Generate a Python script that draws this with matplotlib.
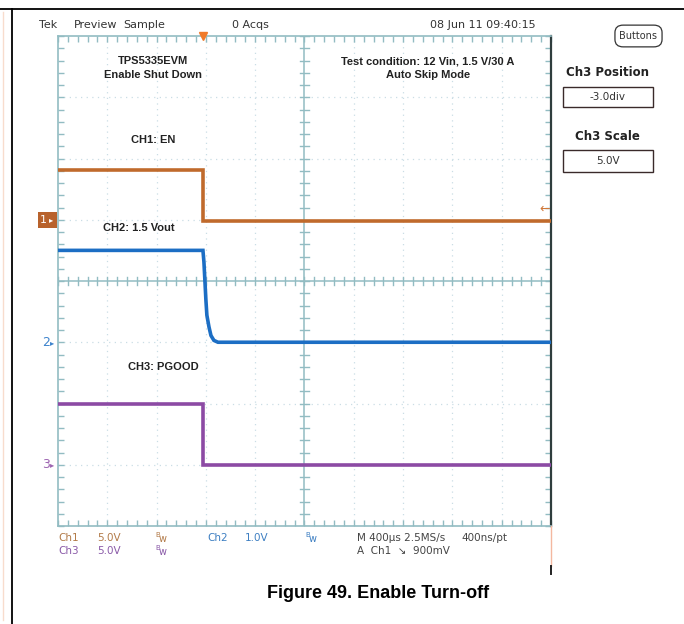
import matplotlib
matplotlib.use('Agg')
import matplotlib.pyplot as plt
import numpy as np
from matplotlib.lines import Line2D
from matplotlib.patches import Rectangle, FancyBboxPatch
from matplotlib.transforms import blended_transform_factory

# ---------------- data ----------------
time_per_div_us = 400
trigger_div = 2.94          # trigger position, divisions from the left edge
n_xdiv, n_ydiv = 10, 8

ch1_t_us = [-1176, 0, 0, 2824]
ch1_v = [4.1, 4.1, -0.1, -0.1]

ch2_t_us = [-1176, 0, 8, 16, 24, 32, 49, 65, 89, 122, 2824]
ch2_v = [1.50, 1.50, 1.31, 1.00, 0.69, 0.44, 0.25, 0.11, 0.03, 0.0, 0.0]

ch3_t_us = [-1176, 0, 0, 2824]
ch3_v = [5.0, 5.0, 0.0, 0.0]

channel_names = ['Ch1', 'Ch2', 'Ch3']
volts_per_div = [5.0, 1.0, 5.0]
position_div = [1.0, -1.0, -3.0]
trigger_level_v = 0.9

trace_labels = ['CH1: EN', 'CH2: 1.5 Vout', 'CH3: PGOOD']
colors = ['#c06a2c', '#1c6ec4', '#8c4aa4']
readout_colors = ['#b27a48', '#3d7fc2', '#8a5aa8']

# ---------------- figure ----------------
W, H = 684, 624
fig = plt.figure(figsize=(W / 100, H / 100), dpi=100)
fig.patch.set_facecolor('white')

def fx(x):
    return x / W

def fy(y):
    return 1 - y / H

NARROW = ['Liberation Sans Narrow', 'DejaVu Sans']
BOLD = ['Liberation Sans', 'DejaVu Sans']

# outer document frame
fig.add_artist(Line2D([fx(0), fx(684)], [fy(9), fy(9)], color='black', lw=1.3))
fig.add_artist(Line2D([fx(12), fx(12)], [fy(9), fy(624)], color='black', lw=1.3))
fig.add_artist(Line2D([fx(3), fx(3)], [fy(12), fy(620)], color='#f8dccd', lw=1.0))

# graticule axes
L, R, T, B = 58, 551, 36, 526
ax = fig.add_axes([fx(L), fy(B), (R - L) / W, (B - T) / H])
ax.set_xlim(0, n_xdiv)
ax.set_ylim(-n_ydiv / 2, n_ydiv / 2)
ax.set_facecolor('white')
grid_c = '#92bcc2'
for s in ['left', 'top', 'bottom']:
    ax.spines[s].set_color(grid_c)
    ax.spines[s].set_linewidth(1.2)
ax.spines['right'].set_color('#2f3d3d')
ax.spines['right'].set_linewidth(1.6)
ax.set_xticks(np.arange(0, n_xdiv + 0.01, 0.2))
ax.set_yticks(np.arange(-n_ydiv / 2, n_ydiv / 2 + 0.01, 0.2))
ax.tick_params(direction='in', length=4, width=1.0, color=grid_c,
               top=True, right=True, labelbottom=False, labelleft=False)

# dotted division lines
for i in range(1, n_xdiv):
    if i != n_xdiv // 2:
        ax.axvline(i, color='#cadde5', lw=0.9, ls=(0, (1, 3.5)), zorder=0)
for j in range(-n_ydiv // 2 + 1, n_ydiv // 2):
    if j != 0:
        ax.axhline(j, color='#cadde5', lw=0.9, ls=(0, (1, 3.5)), zorder=0)

# center cross with ticks
ax.axhline(0, color=grid_c, lw=1.1, zorder=1)
ax.axvline(n_xdiv / 2, color=grid_c, lw=1.1, zorder=1)
for x in np.arange(0, n_xdiv + 0.01, 0.2):
    ax.plot([x, x], [-0.07, 0.07], color=grid_c, lw=1.0, zorder=1)
for y in np.arange(-n_ydiv / 2, n_ydiv / 2 + 0.01, 0.2):
    ax.plot([n_xdiv / 2 - 0.09, n_xdiv / 2 + 0.09], [y, y], color=grid_c, lw=1.0, zorder=1)

# traces
traces = [(ch1_t_us, ch1_v), (ch2_t_us, ch2_v), (ch3_t_us, ch3_v)]
for k, (t, v) in enumerate(traces):
    xs = trigger_div + np.asarray(t, float) / time_per_div_us
    ys = position_div[k] + np.asarray(v, float) / volts_per_div[k]
    ax.plot(xs, ys, color=colors[k], lw=2.6, solid_joinstyle='miter', zorder=3)

# trigger position marker (top) and trigger level arrow (right)
ax.plot([trigger_div], [n_ydiv / 2], marker='v', ms=6, color='#f07a2a',
        clip_on=False, zorder=5)
trig_y = position_div[0] + trigger_level_v / volts_per_div[0]
ax.text(9.98, trig_y, '\u2190', color='#d0783a', fontsize=9, ha='right',
        va='center', zorder=5)

# channel ground markers on the left
bt = blended_transform_factory(fig.transFigure, ax.transData)
ax.add_patch(Rectangle((fx(38), position_div[0] - 0.13), fx(57) - fx(38), 0.26,
                       transform=bt, facecolor='#b8622c', edgecolor='none',
                       clip_on=False, zorder=5))
fig.text(fx(40), position_div[0], '1', transform=bt, fontsize=8, color='white',
         va='center', ha='left', family=NARROW)
fig.text(fx(49), position_div[0], '\u25b8', transform=bt, fontsize=6,
         color='white', va='center', ha='left')
for k in (1, 2):
    fig.text(fx(42), position_div[k], str(k + 1), transform=bt, fontsize=9,
             color=colors[k], va='center', ha='left', family=NARROW, alpha=0.85)
    fig.text(fx(50), position_div[k], '\u25b8', transform=bt, fontsize=6,
             color=colors[k], va='center', ha='left', alpha=0.85)

# annotation texts in the graticule
ann = dict(fontsize=8, fontweight='bold', color='#222222', family=BOLD,
           ha='center', va='center')
fig.text(fx(153), fy(61), 'TPS5335EVM', **ann)
fig.text(fx(153), fy(75), 'Enable Shut Down', **ann)
fig.text(fx(428), fy(61), 'Test condition: 12 Vin, 1.5 V/30 A', **ann)
fig.text(fx(428), fy(75), 'Auto Skip Mode', **ann)
fig.text(fx(153), fy(140), trace_labels[0], **ann)
fig.text(fx(139), fy(228), trace_labels[1], **ann)
fig.text(fx(163), fy(367), trace_labels[2], **ann)

# header
hdr = dict(fontsize=8, color='#333333', family=NARROW, va='center', ha='left')
fig.text(fx(39), fy(25), 'Tek', **hdr)
fig.text(fx(74), fy(25), 'Preview', **hdr)
fig.text(fx(123), fy(25), 'Sample', **hdr)
fig.text(fx(232), fy(25), '0 Acqs', **hdr)
fig.text(fx(430), fy(25), '08 Jun 11 09:40:15', **hdr)

# right-hand panel
fig.add_artist(FancyBboxPatch((fx(617), fy(45)), fx(660) - fx(617), fy(27) - fy(45),
                              boxstyle='round,pad=0.003,rounding_size=0.012',
                              transform=fig.transFigure, facecolor='white',
                              edgecolor='#333333', lw=0.9))
fig.text(fx(638), fy(36), 'Buttons', fontsize=7, color='#333333',
         family=NARROW, ha='center', va='center')
fig.text(fx(607), fy(72), 'Ch3 Position', fontsize=8.5, fontweight='bold',
         color='#222222', family=NARROW, ha='center', va='center')
fig.add_artist(Rectangle((fx(563), fy(107)), fx(653) - fx(563), fy(87) - fy(107),
                         transform=fig.transFigure, facecolor='white',
                         edgecolor='#3a2a2a', lw=1.0))
fig.text(fx(608), fy(97), '-3.0div', fontsize=7.5, color='#333333',
         family=NARROW, ha='center', va='center')
fig.text(fx(607), fy(136), 'Ch3 Scale', fontsize=8.5, fontweight='bold',
         color='#222222', family=NARROW, ha='center', va='center')
fig.add_artist(Rectangle((fx(563), fy(172)), fx(653) - fx(563), fy(150) - fy(172),
                         transform=fig.transFigure, facecolor='white',
                         edgecolor='#3a2a2a', lw=1.0))
fig.text(fx(608), fy(161), '5.0V', fontsize=7.5, color='#333333',
         family=NARROW, ha='center', va='center')

# right border continuation below graticule
fig.add_artist(Line2D([fx(551), fx(551)], [fy(526), fy(566)], color='#f4b8a0', lw=1.0))
fig.add_artist(Line2D([fx(551), fx(551)], [fy(566), fy(574)], color='#222222', lw=1.4))

# bottom readouts
ro = dict(fontsize=7.5, family=NARROW, va='center', ha='left')
fig.text(fx(58), fy(538), 'Ch1', color=readout_colors[0], **ro)
fig.text(fx(97), fy(538), '%.1fV' % volts_per_div[0], color=readout_colors[0], **ro)
fig.text(fx(58), fy(551), 'Ch3', color=readout_colors[2], **ro)
fig.text(fx(97), fy(551), '%.1fV' % volts_per_div[2], color=readout_colors[2], **ro)
fig.text(fx(207), fy(538), 'Ch2', color=readout_colors[1], **ro)
fig.text(fx(245), fy(538), '%.1fV' % volts_per_div[1], color=readout_colors[1], **ro)
for (xp, yp, c) in [(155, 538, readout_colors[0]), (155, 551, readout_colors[2]),
                    (305, 538, readout_colors[1])]:
    fig.text(fx(xp), fy(yp - 3), 'B', fontsize=5, color=c, family=NARROW,
             va='center', ha='left')
    fig.text(fx(xp + 4), fy(yp + 1), 'w', fontsize=7, color=c, family=NARROW,
             va='center', ha='left')
fig.text(fx(357), fy(538), 'M 400\u00b5s 2.5MS/s', color='#444444', **ro)
fig.text(fx(461), fy(538), '400ns/pt', color='#444444', **ro)
fig.text(fx(357), fy(551), 'A  Ch1  \u2198  900mV', color='#444444', **ro)

# caption
fig.text(fx(378), fy(594), 'Figure 49. Enable Turn-off', fontsize=13,
         fontweight='bold', color='black', family=BOLD, ha='center', va='center')

fig.savefig('out.png', dpi=100)
